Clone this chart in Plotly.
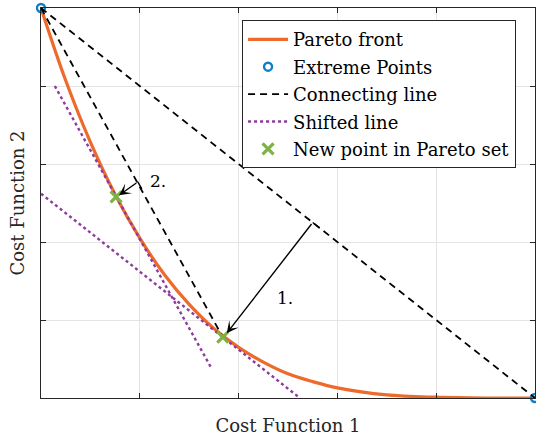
import plotly.graph_objects as go

# ---- data ----
pareto_x = [0, 0.25, 0.5, 0.75, 1.0, 1.25, 1.5, 1.75, 2.0, 2.25, 2.5, 2.75, 3.0, 3.5, 4.0, 4.5, 5.0]
pareto_y = [5.0, 4.07, 3.28, 2.61, 2.05, 1.58, 1.20, 0.89, 0.65, 0.46, 0.31, 0.21, 0.13, 0.04, 0.01, 0.0, 0.0]

extreme_x = [0, 5]
extreme_y = [5, 0]

new_x = [1.84, 0.76]
new_y = [0.78, 2.58]

conn1_x = [0, 5]
conn1_y = [5, 0]
conn2_x = [0, 1.84]
conn2_y = [5, 0.78]

shift1_x = [0, 2.62]
shift1_y = [2.62, 0.0]
shift2_x = [0.14, 1.73]
shift2_y = [4.0, 0.37]

# arrows: start (on connecting line) -> end (new point)
arrow_start_x = [2.75, 0.98]
arrow_start_y = [2.25, 2.77]
arrow_end_x = [1.88, 0.79]
arrow_end_y = [0.83, 2.60]
# right-angle marker segment ends
marker_end_x = [2.82, 1.02]
marker_end_y = [2.18, 2.68]

labels = ["1.", "2."]
label_x = [2.47, 1.18]
label_y = [1.28, 2.78]

FONT = "DejaVu Serif"
ORANGE = "#EE6A2A"
BLUE = "#0A80C8"
PURPLE = "#8E3A9E"
GREEN = "#7CB342"

fig = go.Figure()

fig.add_trace(go.Scatter(x=pareto_x, y=pareto_y, mode="lines", name="Pareto front",
                         line=dict(color=ORANGE, width=3.2, shape="spline", smoothing=1.0),
                         legendgroup="a"))
fig.add_trace(go.Scatter(x=extreme_x, y=extreme_y, mode="markers", name="Extreme Points",
                         marker=dict(symbol="circle-open", size=8, color=BLUE, line=dict(width=2.4)),
                         cliponaxis=False, legendgroup="b"))
fig.add_trace(go.Scatter(x=conn1_x, y=conn1_y, mode="lines", name="Connecting line",
                         line=dict(color="black", width=1.8, dash="7px,5px"), legendgroup="c"))
fig.add_trace(go.Scatter(x=conn2_x, y=conn2_y, mode="lines", showlegend=False,
                         line=dict(color="black", width=1.8, dash="7px,5px"), legendgroup="c"))
fig.add_trace(go.Scatter(x=shift1_x, y=shift1_y, mode="lines", name="Shifted line",
                         line=dict(color=PURPLE, width=2.4, dash="dot"), legendgroup="d"))
fig.add_trace(go.Scatter(x=shift2_x, y=shift2_y, mode="lines", showlegend=False,
                         line=dict(color=PURPLE, width=2.4, dash="dot"), legendgroup="d"))
fig.add_trace(go.Scatter(x=new_x, y=new_y, mode="markers", name="New point in Pareto set",
                         marker=dict(symbol="x-thin", size=11, color=GREEN,
                                     line=dict(width=3.2, color=GREEN)), legendgroup="e"))

for i in range(len(labels)):
    fig.add_annotation(x=arrow_end_x[i], y=arrow_end_y[i], ax=arrow_start_x[i], ay=arrow_start_y[i],
                       xref="x", yref="y", axref="x", ayref="y", text="", showarrow=True,
                       arrowhead=3, arrowsize=1.4, arrowwidth=1.4, arrowcolor="black")
    fig.add_shape(type="line", x0=arrow_start_x[i], y0=arrow_start_y[i],
                  x1=marker_end_x[i], y1=marker_end_y[i], xref="x", yref="y",
                  line=dict(color="black", width=1.4))
    fig.add_annotation(x=label_x[i], y=label_y[i], xref="x", yref="y", text=labels[i],
                       showarrow=False, font=dict(family=FONT, size=17, color="black"))

axis_common = dict(range=[0, 5], dtick=1, showticklabels=False, ticks="inside", ticklen=5,
                   tickcolor="#262626", showline=True, linecolor="#262626", linewidth=1,
                   mirror="ticks", showgrid=True, gridcolor="#e4e4e4", gridwidth=1,
                   zeroline=False, automargin=False,
                   title_font=dict(family=FONT, size=18, color="#262626"))

fig.update_xaxes(**axis_common, title_text="Cost Function 1", title_standoff=21)
fig.update_yaxes(**axis_common, title_text="Cost Function 2", title_standoff=10)

fig.update_layout(
    width=536, height=437,
    margin=dict(l=41, r=1, t=8, b=39, autoexpand=False),
    paper_bgcolor="white", plot_bgcolor="white",
    font=dict(family=FONT, size=18, color="black"),
    legend=dict(x=0.407, y=0.969, xanchor="left", yanchor="top",
                bgcolor="white", bordercolor="#262626", borderwidth=1,
                font=dict(family=FONT, size=18, color="black"),
                tracegroupgap=1, itemwidth=40),
    showlegend=True,
)

fig.write_html("out.html", config={"displayModeBar": False},
               post_script="document.body.style.margin='0';document.body.style.overflow='hidden';")
